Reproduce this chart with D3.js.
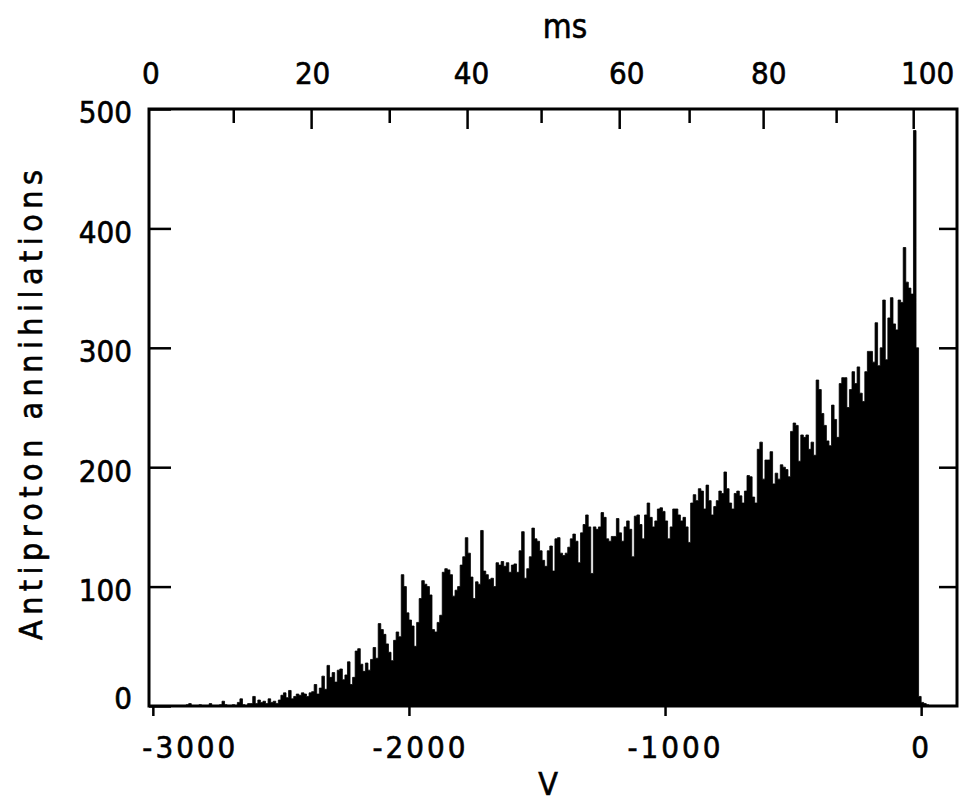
<!DOCTYPE html>
<html>
<head>
<meta charset="utf-8">
<script src="https://cdn.jsdelivr.net/npm/d3@7"></script>
<style>
  body { margin: 0; background: #fff; }
  svg text {
    font-family: "DejaVu Sans Condensed", "DejaVu Sans", sans-serif;
    font-stretch: condensed;
    fill: #000;
    stroke: #000;
    stroke-width: 0.6px;
  }
</style>
</head>
<body>
<svg id="chart" width="960" height="807"></svg>
<script>
// antiproton annihilations per 10 V bin, first bin starts at -3000 V
const binStart = -3000;
const binWidth = 10;
const counts = [
  0, 0, 0, 0, 0, 0, 0, 0, 0, 0,               // -3000
  0, 0, 0, 1, 2, 0, 0, 0, 1, 0,               // -2900
  0, 0, 2, 0, 0, 0, 1, 4, 1, 0,               // -2800
  0, 1, 0, 3, 6, 1, 0, 2, 2, 8,               // -2700
  2, 5, 3, 4, 2, 6, 3, 4, 2, 5,               // -2600
  9, 11, 7, 13, 6, 8, 10, 9, 11, 10,          // -2500
  8, 11, 12, 18, 10, 15, 25, 14, 34, 24,      // -2400
  28, 20, 30, 31, 22, 26, 37, 18, 24, 46,     // -2300
  48, 35, 29, 36, 30, 39, 49, 40, 69, 64,     // -2200
  60, 52, 45, 38, 55, 62, 58, 110, 100, 78,   // -2100
  72, 67, 50, 70, 90, 105, 102, 100, 93, 64,  // -2000
  62, 70, 76, 112, 115, 114, 110, 92, 97, 100,      // -1900
  118, 125, 141, 128, 108, 90, 104, 102, 147, 113,  // -1800
  110, 106, 107, 100, 120, 118, 121, 117, 120, 112, // -1700
  118, 119, 112, 130, 146, 107, 115, 125, 149, 140, // -1600
  138, 130, 122, 117, 130, 134, 113, 140, 141, 128, // -1500
  126, 128, 133, 140, 144, 138, 120, 145, 152, 160, // -1400
  150, 111, 150, 148, 150, 162, 158, 140, 138, 142, // -1300
  142, 157, 145, 138, 150, 155, 148, 125, 159, 160, // -1200
  152, 140, 160, 170, 158, 150, 155, 165, 166, 163, // -1100
  155, 140, 150, 165, 165, 160, 155, 158, 150, 137, // -1000
  170, 177, 172, 182, 180, 165, 185, 172, 160, 167, // -900
  172, 180, 178, 196, 182, 170, 165, 178, 180, 176, // -800
  170, 180, 193, 192, 175, 170, 215, 221, 190, 206, // -700
  206, 213, 186, 195, 190, 202, 200, 198, 192, 230, // -600
  237, 235, 205, 227, 225, 227, 215, 221, 210, 273, // -500
  265, 245, 235, 222, 218, 252, 240, 225, 270, 275, // -400
  275, 250, 265, 280, 270, 284, 262, 255, 280, 297, // -300
  297, 288, 321, 285, 300, 340, 290, 325, 342, 320, // -200
  315, 340, 338, 384, 355, 350, 345, 482, 300, 8,   // -100
  3, 2, 1                                           // 0
];

const voltTicks = [-3000, -2000, -1000, 0];
const countTicks = [0, 100, 200, 300, 400, 500];
const sideTicks = [100, 200, 300, 400];

// time scale on top: ms value and the voltage it sits at
const msTicks = [0, 10, 20, 30, 40, 50, 60, 70, 80, 90, 100];
const msVolts = [-3010, -2686, -2382, -2077, -1773, -1484, -1179, -906, -617, -332, -31];
const msLabels = [0, 20, 40, 60, 80, 100];

const box = {left: 149, right: 957, top: 109, bottom: 706};

const svg = d3.select('#chart');

const x = d3.scaleLinear().domain([-3015, 140]).range([box.left, box.right]);
const y = d3.scaleLinear().domain([0, 500]).range([box.bottom, box.top]);
const xMs = d3.scaleLinear().domain(msTicks).range(msVolts.map(v => x(v)));

// step outline of the histogram, closed with one extra edge at the end
const bins = counts.map((n, i) => ({v0: binStart + i * binWidth, n: n}));
const steps = bins.concat([{v0: binStart + counts.length * binWidth, n: 0}]);

const area = d3.area()
  .x(d => x(d.v0))
  .y0(y(0))
  .y1(d => y(d.n))
  .curve(d3.curveStepAfter);

svg.append('path')
  .datum(steps)
  .attr('d', area)
  .attr('fill', '#000')
  .attr('stroke', '#000')
  .attr('stroke-width', 0.8);

function styleAxis(g) {
  g.select('.domain').remove();
  g.attr('font-size', 31).attr('font-family', null);
  g.selectAll('.tick line').attr('stroke-width', 2.5);
}

// bottom: volts
const bottomShift = {'-3000': 37, '-2000': 11, '-1000': 10, '0': 0};
svg.append('g')
  .attr('transform', `translate(0,${box.bottom})`)
  .call(d3.axisBottom(x).tickValues(voltTicks).tickSize(10).tickPadding(20).tickFormat(d => String(d)))
  .call(styleAxis)
  .call(g => g.selectAll('.tick text')
    .attr('letter-spacing', 3)
    .attr('dx', d => bottomShift[String(d)])
    .attr('dy', '0.71em'));

// top: ms
const topShift = {'0': 0, '20': 1, '40': 4, '60': 7, '80': 5, '100': 14};
svg.append('g')
  .attr('transform', `translate(0,${box.top})`)
  .call(d3.axisTop(xMs).tickValues(msTicks).tickSize(-20).tickPadding(25)
    .tickFormat(d => msLabels.includes(d) ? String(d) : ''))
  .call(styleAxis)
  .call(g => g.selectAll('.tick text').attr('dx', d => topShift[String(d)] || 0))
  .call(g => g.selectAll('.tick line')
    .filter(d => !msLabels.includes(d))
    .attr('y2', 14))
  .call(g => g.selectAll('.tick')
    .filter(d => d === 0)
    .select('line').remove());

// left: counts
svg.append('g')
  .attr('transform', `translate(${box.left},0)`)
  .call(d3.axisLeft(y).tickValues(countTicks).tickSize(-22).tickPadding(17))
  .call(styleAxis)
  .call(g => g.selectAll('.tick text').attr('dy', d => d === 0 ? '0.07em' : '0.45em'));

// right: ticks only
svg.append('g')
  .attr('transform', `translate(${box.right},0)`)
  .call(d3.axisRight(y).tickValues(sideTicks).tickSize(-18).tickFormat(''))
  .call(styleAxis);

svg.append('rect')
  .attr('x', box.left)
  .attr('y', box.top)
  .attr('width', box.right - box.left)
  .attr('height', box.bottom - box.top)
  .attr('fill', 'none')
  .attr('stroke', '#000')
  .attr('stroke-width', 3);

svg.append('text')
  .attr('x', 565)
  .attr('y', 38)
  .attr('text-anchor', 'middle')
  .attr('font-size', 33)
  .text('ms');

svg.append('text')
  .attr('x', 548)
  .attr('y', 795)
  .attr('text-anchor', 'middle')
  .attr('font-size', 32)
  .text('V');

svg.append('text')
  .attr('transform', 'translate(42,405) rotate(-90)')
  .attr('text-anchor', 'middle')
  .attr('font-size', 32)
  .attr('textLength', 470)
  .attr('lengthAdjust', 'spacing')
  .text('Antiproton annihilations');
</script>
</body>
</html>
